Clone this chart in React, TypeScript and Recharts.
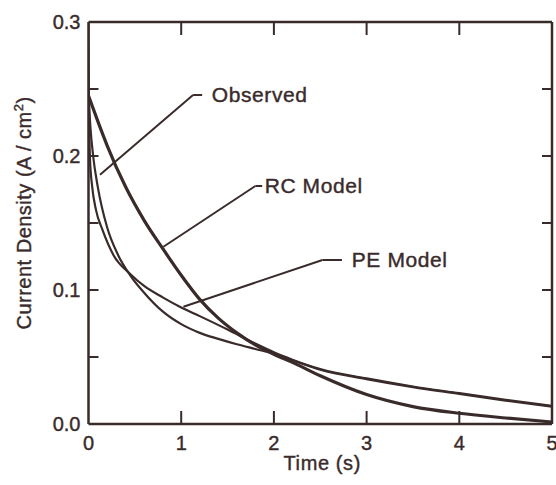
import React from 'react';
import { LineChart, Line, XAxis, YAxis, ReferenceLine, ReferenceDot } from 'recharts';

// ---- data ----
const rcTime = [0, 0.1, 0.2, 0.4, 0.6, 0.8, 1.0, 1.2, 1.4, 1.6, 1.8, 2.0, 2.2, 2.5, 3.0, 3.5, 4.0, 4.5, 5.0];
const rcCurrent = [0.245, 0.226, 0.208, 0.177, 0.152, 0.131, 0.111, 0.093, 0.079, 0.068, 0.059, 0.052, 0.046, 0.036, 0.022, 0.013, 0.008, 0.0045, 0.0015];

const peTime = [0, 0.004, 0.016, 0.04, 0.08, 0.15, 0.27, 0.45, 0.6, 0.8, 1.0, 1.2, 1.5, 1.8, 2.0, 2.2, 2.5, 3.0, 3.5, 4.0, 4.5, 5.0];
const peCurrent = [0.3, 0.25, 0.198, 0.177, 0.16, 0.145, 0.126, 0.112, 0.103, 0.0945, 0.087, 0.0805, 0.0705, 0.06, 0.0535, 0.048, 0.041, 0.034, 0.028, 0.023, 0.018, 0.0135];

const obsTime = [0, 0.02, 0.05, 0.1, 0.2, 0.32, 0.45, 0.6, 0.8, 1.0, 1.2, 1.4, 1.6, 1.8, 2.0, 2.2, 2.5, 3.0, 3.5, 4.0, 4.5, 5.0];
const obsCurrent = [0.245, 0.222, 0.2, 0.177, 0.147, 0.126, 0.111, 0.098, 0.084, 0.0745, 0.068, 0.0635, 0.0595, 0.056, 0.0525, 0.0475, 0.0405, 0.0335, 0.0275, 0.0225, 0.0175, 0.013];

const xTicks = [0, 1, 2, 3, 4, 5];
const yTicks = [0, 0.05, 0.1, 0.15, 0.2, 0.25, 0.3];

// annotation anchors (data coordinates): curve point, elbow, end of leader, text start
const obsLeader = [[0.124, 0.186], [1.128, 0.2455], [1.226, 0.2455], [1.33, 0.2455]];
const rcLeader = [[0.808, 0.1323], [1.8, 0.1776], [1.874, 0.1776], [1.9, 0.1776]];
const peLeader = [[1.024, 0.0875], [2.524, 0.1224], [2.734, 0.1224], [2.84, 0.1224]];

const zip = (t: number[], v: number[]) => t.map((x, i) => ({ t: x, v: v[i] }));
const rcData = zip(rcTime, rcCurrent);
const peData = zip(peTime, peCurrent);
const obsData = zip(obsTime, obsCurrent);

const INK = '#3a2b2b';
const FONT = '"Liberation Sans", Arial, Helvetica, sans-serif';

const BottomTick = (p: any) => {
  const { x, y, payload } = p;
  const v = payload.value;
  return (
    <g>
      {v > 0 && v < 5 && <line x1={x} x2={x} y1={y} y2={y - 13} stroke={INK} strokeWidth={2} />}
      <text x={x} y={y + 26} textAnchor="middle" fontSize={20} fontFamily={FONT} fill={INK} stroke={INK} strokeWidth={0.4}>{v}</text>
    </g>
  );
};
const TopTick = (p: any) => {
  const { x, y, payload } = p;
  const v = payload.value;
  if (v <= 0 || v >= 5) return <g />;
  return <line x1={x} x2={x} y1={y} y2={y + 13} stroke={INK} strokeWidth={2} />;
};
const LeftTick = (p: any) => {
  const { x, y, payload } = p;
  const v = payload.value;
  const labeled = Math.round(v * 100) % 10 === 0;
  return (
    <g>
      {v > 0 && v < 0.3 && <line x1={x} x2={x + 10} y1={y} y2={y} stroke={INK} strokeWidth={2} />}
      {labeled && (
        <text x={x - 8} y={y} dy={7} textAnchor="end" fontSize={20} fontFamily={FONT} fill={INK} stroke={INK} strokeWidth={0.4}>{v.toFixed(1)}</text>
      )}
    </g>
  );
};
const RightTick = (p: any) => {
  const { x, y, payload } = p;
  const v = payload.value;
  if (v <= 0 || v >= 0.3) return <g />;
  return <line x1={x} x2={x - 10} y1={y} y2={y} stroke={INK} strokeWidth={2} />;
};

const YTitle = (p: any) => {
  const vb = p.viewBox;
  const cx = 31;
  const cy = vb.y + vb.height / 2 - 10;
  return (
    <text x={cx} y={cy} transform={`rotate(-90, ${cx}, ${cy})`} textAnchor="middle" fontSize={20} letterSpacing={0.5} fontFamily={FONT} fill={INK} stroke={INK} strokeWidth={0.4}>
      Current Density (A / cm<tspan dy={-8} fontSize={13}>2</tspan><tspan dy={8}>)</tspan>
    </text>
  );
};
const XTitle = (p: any) => {
  const vb = p.viewBox;
  return (
    <text x={vb.x + vb.width / 2 + 2} y={vb.y + 46} textAnchor="middle" fontSize={20} letterSpacing={0.6} fontFamily={FONT} fill={INK} stroke={INK} strokeWidth={0.4}>
      Time (s)
    </text>
  );
};

const makeTextLabel = (text: string) => (p: any) => {
  const vb = p.viewBox;
  const x = vb.x + vb.width / 2;
  const y = vb.y + vb.height / 2;
  return (
    <text x={x} y={y} dy={7} textAnchor="start" fontSize={21} letterSpacing={0.6} fontFamily={FONT} fill={INK} stroke={INK} strokeWidth={0.4}>{text}</text>
  );
};

const leader = (pts: number[][], key: string, text: string) => [
  <ReferenceLine key={key + 'a'} xAxisId="b" yAxisId="l" segment={[{ x: pts[0][0], y: pts[0][1] }, { x: pts[1][0], y: pts[1][1] }]} stroke={INK} strokeWidth={2} ifOverflow="visible" />,
  <ReferenceLine key={key + 'b'} xAxisId="b" yAxisId="l" segment={[{ x: pts[1][0], y: pts[1][1] }, { x: pts[2][0], y: pts[2][1] }]} stroke={INK} strokeWidth={2} ifOverflow="visible" />,
  <ReferenceDot key={key + 'c'} xAxisId="b" yAxisId="l" x={pts[3][0]} y={pts[3][1]} r={1} fill="none" stroke="none" ifOverflow="visible" label={makeTextLabel(text)} />,
];

export default function App() {
  return (
    <div style={{ position: 'absolute', left: 0, top: 0, background: '#fff' }}>
      <LineChart width={556} height={485} margin={{ top: 21, right: 3, bottom: 0, left: 0 }}>
        <XAxis xAxisId="b" dataKey="t" type="number" domain={[0, 5]} ticks={xTicks} orientation="bottom" height={61}
          axisLine={{ stroke: INK, strokeWidth: 2.5 }} tickLine={false} tickSize={0} tickMargin={0} tick={<BottomTick />}
          allowDataOverflow label={<XTitle />} />
        <XAxis xAxisId="t" dataKey="t" type="number" domain={[0, 5]} ticks={xTicks} orientation="top" height={1}
          axisLine={{ stroke: INK, strokeWidth: 2.5 }} tickLine={false} tickSize={0} tickMargin={0} tick={<TopTick />} allowDataOverflow />
        <YAxis yAxisId="l" type="number" domain={[0, 0.3]} ticks={yTicks} orientation="left" width={88.5}
          axisLine={{ stroke: INK, strokeWidth: 2.5 }} tickLine={false} tickSize={0} tickMargin={0} tick={<LeftTick />}
          allowDataOverflow label={<YTitle />} />
        <YAxis yAxisId="r" type="number" domain={[0, 0.3]} ticks={yTicks} orientation="right" width={1}
          axisLine={{ stroke: INK, strokeWidth: 2.5 }} tickLine={false} tickSize={0} tickMargin={0} tick={<RightTick />} allowDataOverflow />
        <Line xAxisId="b" yAxisId="l" data={peData} dataKey="v" type="monotone" stroke={INK} strokeWidth={2.2} dot={false} isAnimationActive={false} />
        <Line xAxisId="b" yAxisId="l" data={obsData} dataKey="v" type="monotone" stroke={INK} strokeWidth={2.2} dot={false} isAnimationActive={false} />
        <Line xAxisId="b" yAxisId="l" data={rcData} dataKey="v" type="monotone" stroke={INK} strokeWidth={3.2} dot={false} isAnimationActive={false} />
        {leader(obsLeader, 'obs', 'Observed')}
        {leader(rcLeader, 'rc', 'RC Model')}
        {leader(peLeader, 'pe', 'PE Model')}
      </LineChart>
    </div>
  );
}
